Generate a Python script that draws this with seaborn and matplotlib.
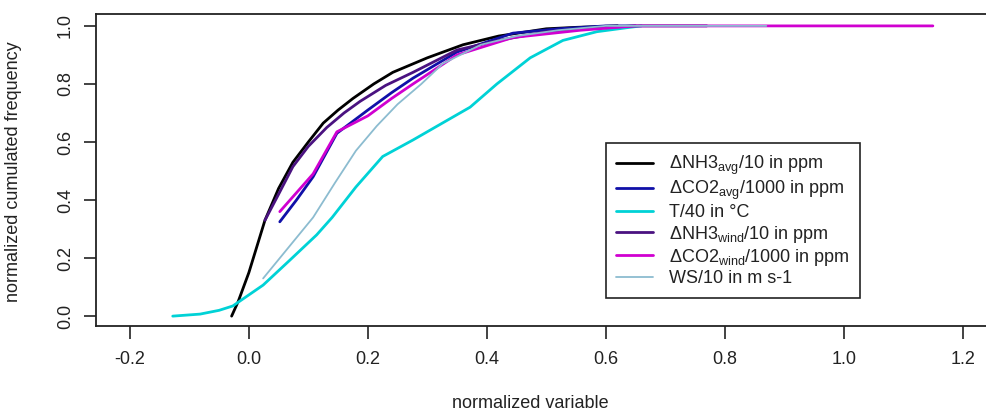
import numpy as np
import pandas as pd
import seaborn as sns
import matplotlib
matplotlib.use("Agg")
import matplotlib.pyplot as plt

# values (normalized variable vs. cumulated frequency)
nh3_avg_x = [-0.029, -0.018, 0.0, 0.027, 0.05, 0.074, 0.1, 0.125, 0.15, 0.175, 0.21, 0.242, 0.3, 0.36, 0.42, 0.5, 0.55, 0.62]
nh3_avg_y = [0.0, 0.05, 0.15, 0.33, 0.44, 0.53, 0.60, 0.665, 0.71, 0.75, 0.80, 0.84, 0.89, 0.935, 0.965, 0.99, 0.995, 1.0]

co2_avg_x = [0.052, 0.08, 0.108, 0.148, 0.2, 0.24, 0.276, 0.35, 0.444, 0.52, 0.6, 0.65]
co2_avg_y = [0.325, 0.40, 0.48, 0.63, 0.71, 0.77, 0.82, 0.91, 0.975, 0.99, 1.0, 1.0]

temp_x = [-0.128, -0.082, -0.05, -0.027, -0.015, 0.024, 0.069, 0.114, 0.14, 0.18, 0.225, 0.276, 0.321, 0.372, 0.417, 0.473, 0.528, 0.585, 0.64, 0.66]
temp_y = [0.0, 0.007, 0.02, 0.035, 0.052, 0.107, 0.193, 0.28, 0.34, 0.445, 0.55, 0.607, 0.66, 0.72, 0.80, 0.89, 0.95, 0.98, 0.995, 1.0]

nh3_wind_x = [0.027, 0.05, 0.074, 0.1, 0.131, 0.16, 0.187, 0.23, 0.276, 0.35, 0.42, 0.5, 0.6, 0.65, 0.77]
nh3_wind_y = [0.33, 0.42, 0.515, 0.585, 0.65, 0.70, 0.74, 0.795, 0.84, 0.917, 0.95, 0.98, 0.995, 1.0, 1.0]

co2_wind_x = [0.052, 0.08, 0.108, 0.148, 0.2, 0.24, 0.276, 0.35, 0.444, 0.557, 0.65, 0.8, 1.15]
co2_wind_y = [0.36, 0.425, 0.49, 0.635, 0.69, 0.75, 0.80, 0.90, 0.96, 0.985, 1.0, 1.0, 1.0]

ws_x = [0.024, 0.06, 0.108, 0.145, 0.18, 0.215, 0.25, 0.29, 0.326, 0.39, 0.45, 0.52, 0.6, 0.87]
ws_y = [0.13, 0.22, 0.34, 0.46, 0.57, 0.655, 0.73, 0.80, 0.87, 0.935, 0.965, 0.985, 1.0, 1.0]

labels = [r"ΔNH3$_{\mathrm{avg}}$/10 in ppm",
          r"ΔCO2$_{\mathrm{avg}}$/1000 in ppm",
          "T/40 in °C",
          r"ΔNH3$_{\mathrm{wind}}$/10 in ppm",
          r"ΔCO2$_{\mathrm{wind}}$/1000 in ppm",
          "WS/10 in m s-1"]

series = [(nh3_avg_x, nh3_avg_y), (co2_avg_x, co2_avg_y), (temp_x, temp_y),
          (nh3_wind_x, nh3_wind_y), (co2_wind_x, co2_wind_y), (ws_x, ws_y)]
colors = ["#000000", "#1010a8", "#00d2d6", "#4a1280", "#d000d0", "#8cbcd0"]
widths = [2.0, 2.0, 2.0, 2.0, 2.0, 1.3]

sns.set_style("white")
plt.rcParams["font.family"] = ["Liberation Sans", "DejaVu Sans"]
plt.rcParams["mathtext.fontset"] = "custom"
plt.rcParams["mathtext.rm"] = "Liberation Sans"

fs = 13
fig = plt.figure(figsize=(9.87, 4.13), dpi=100)
ax = fig.add_axes([96/987, 1 - 326/413, 1 - 96/987, (326 - 14)/413])

for (xs, ys), lab, c, w in zip(series, labels, colors, widths):
    df = pd.DataFrame({"x": xs, "y": ys})
    sns.lineplot(data=df, x="x", y="y", ax=ax, color=c, linewidth=w,
                 label=lab, sort=False, estimator=None)

ax.set_xlim(-0.257, 1.241)
ax.set_ylim(-0.034, 1.041)
ax.set_xticks([-0.2, 0.0, 0.2, 0.4, 0.6, 0.8, 1.0, 1.2])
ax.set_xticklabels(["-0.2", "0.0", "0.2", "0.4", "0.6", "0.8", "1.0", "1.2"])
ax.set_yticks([0.0, 0.2, 0.4, 0.6, 0.8, 1.0])
ax.set_yticklabels(["0.0", "0.2", "0.4", "0.6", "0.8", "1.0"], rotation=90, va="center")

ax.tick_params(axis="both", direction="out", length=9, width=1.2, color="#222222",
               labelsize=fs, labelcolor="#222222", bottom=True, left=True)
ax.tick_params(axis="x", pad=9)
ax.tick_params(axis="y", pad=7)

for side in ["left", "bottom", "top"]:
    ax.spines[side].set_color("#222222")
    ax.spines[side].set_linewidth(1.3)
ax.spines["right"].set_visible(False)

ax.set_xlabel("")
ax.set_ylabel("normalized cumulated frequency", fontsize=fs, color="#222222")
ax.yaxis.set_label_coords(-0.083, 0.495)
fig.text(530/987, 1 - 403/413, "normalized variable", ha="center", va="center",
         fontsize=fs, color="#222222")

leg = ax.legend(loc="upper left", bbox_to_anchor=(0.572, 0.587), borderaxespad=0,
                frameon=True, fancybox=False, framealpha=1, edgecolor="#222222",
                fontsize=fs, handlelength=2.0, handletextpad=0.9, labelspacing=0.12,
                borderpad=0.6)
leg.get_frame().set_linewidth(1.2)
for t in leg.get_texts():
    t.set_color("#222222")

fig.savefig("out.png", dpi=100)
